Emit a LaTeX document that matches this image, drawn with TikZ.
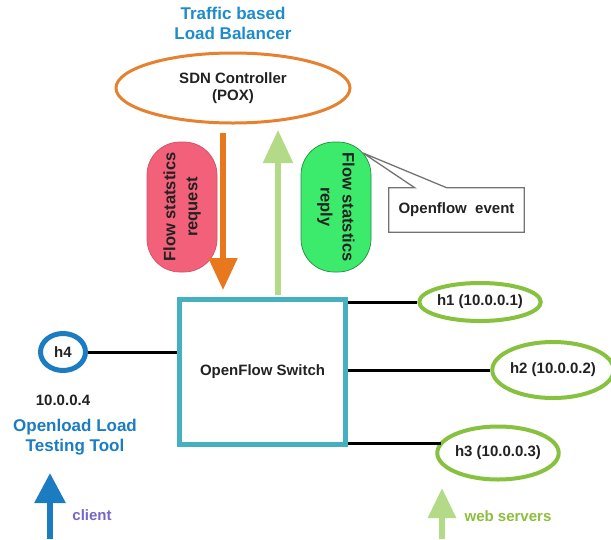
\documentclass[tikz,border=0pt]{standalone}
\usepackage{fontspec}
\setmainfont{Liberation Sans}
\usetikzlibrary{arrows.meta,shapes.geometric}
\definecolor{ttlblue}{HTML}{1E8BCB}
\definecolor{ctrlorange}{HTML}{E5812F}
\definecolor{arrorange}{HTML}{E8781E}
\definecolor{lgreen}{HTML}{B3DA86}
\definecolor{pinkred}{HTML}{F3607A}
\definecolor{brightgreen}{HTML}{3CEB6C}
\definecolor{swteal}{HTML}{45B0C0}
\definecolor{hblue}{HTML}{1C7CC1}
\definecolor{hgreen}{HTML}{86C13F}
\definecolor{clientpurple}{HTML}{7566C8}
\definecolor{wsgreen}{HTML}{8CBF3C}
\definecolor{txt}{HTML}{222222}
\begin{document}
\begin{tikzpicture}[x=1pt,y=-1pt,
  lbl/.style={font=\fontsize{15}{17}\selectfont\bfseries, text=txt, align=center, inner sep=0pt},
  big/.style={font=\fontsize{17}{20}\selectfont\bfseries, align=center, inner sep=0pt},
  host/.style={ellipse, draw=hgreen, line width=4pt, inner sep=0pt, lbl},
  link/.style={line width=3pt, black},
  blob/.style={rectangle, rounded corners=33pt, minimum width=130pt, minimum height=70pt,
     inner sep=0pt, align=center, font=\fontsize{16.5}{22}\selectfont\bfseries, text=txt, line width=0.7pt},
  callout/.style={draw=black!55, line width=1.3pt}
]
\useasboundingbox (0,0) rectangle (611,539);

% title and controller
\node[big, text=ttlblue] (title) at (233,23) {Traffic based\\Load Balancer};
\node[ellipse, draw=ctrlorange, line width=3pt, minimum width=234pt, minimum height=70pt, lbl] (ctrl) at (233,88) {SDN Controller\\(POX)};

% switch
\node[rectangle, draw=swteal, line width=5pt, minimum width=166pt, minimum height=145pt, lbl] (sw) at (262.5,372) {OpenFlow Switch};

% blobs
\node[blob, rotate=90, fill=pinkred, draw=pinkred!85!black] (req) at (182,207) {Flow statstics\\request};
\node[blob, rotate=-90, fill=brightgreen, draw=brightgreen!60!black] (rep) at (336,207) {Flow statstics\\reply};

% controller <-> switch arrows
\coordinate (oa1) at (223,133);
\coordinate (oa2) at (223,290);
\draw[arrorange, line width=5.5pt, -{Triangle[width=28pt,length=32pt]}] (oa1) -- (oa2);
\coordinate (ga1) at (278,295);
\coordinate (ga2) at (278,130);
\draw[lgreen, line width=5.5pt, -{Triangle[width=29pt,length=33pt]}] (ga1) -- (ga2);

% callout
\node[lbl, minimum width=135pt, minimum height=44pt] (ev) at (456.5,210) {Openflow\ \ event};
\coordinate (evtip) at (363,153);
\draw[callout] (ev.north west) -- ([xshift=26pt]ev.north west) -- (evtip) -- ([xshift=58pt]ev.north west)
  -- (ev.north east) -- (ev.south east) -- (ev.south west) -- cycle;

% client side
\node[ellipse, draw=hblue, line width=5pt, minimum width=45pt, minimum height=37pt, inner sep=0pt, lbl] (h4) at (63,352) {h4};
\draw[link] (h4.east) -- (h4.east -| sw.west);
\node[lbl] (ip4) at (63,400) {10.0.0.4};
\node[big, text=hblue] (tool) at (75,437) {Openload Load\\Testing Tool};
\coordinate (ca1) at (50,539);
\coordinate (ca2) at (50,473);
\draw[hblue, line width=6pt, -{Triangle[width=30pt,length=30pt]}] (ca1) -- (ca2);
\node[lbl, text=clientpurple] (cl) at (92,515) {client};

% hosts
\node[host, minimum width=111pt, minimum height=38pt] (h1) at (480,302) {h1 (10.0.0.1)};
\node[host, minimum width=112pt, minimum height=56pt] (h2) at (553,370) {h2 (10.0.0.2)};
\node[host, minimum width=116pt, minimum height=53pt] (h3) at (498,453) {h3 (10.0.0.3)};
\draw[link] (sw.east |- h1.west) -- (h1.west);
\draw[link] (sw.east |- h2.west) -- (h2.west);
\coordinate (h3l) at (441,443);
\draw[link] (sw.east |- h3l) -- (h3l);

\coordinate (wa1) at (442,539);
\coordinate (wa2) at (442,488);
\draw[lgreen, line width=6pt, -{Triangle[width=27pt,length=30pt]}] (wa1) -- (wa2);
\node[lbl, text=wsgreen] (ws) at (508,516) {web servers};
\end{tikzpicture}
\end{document}
